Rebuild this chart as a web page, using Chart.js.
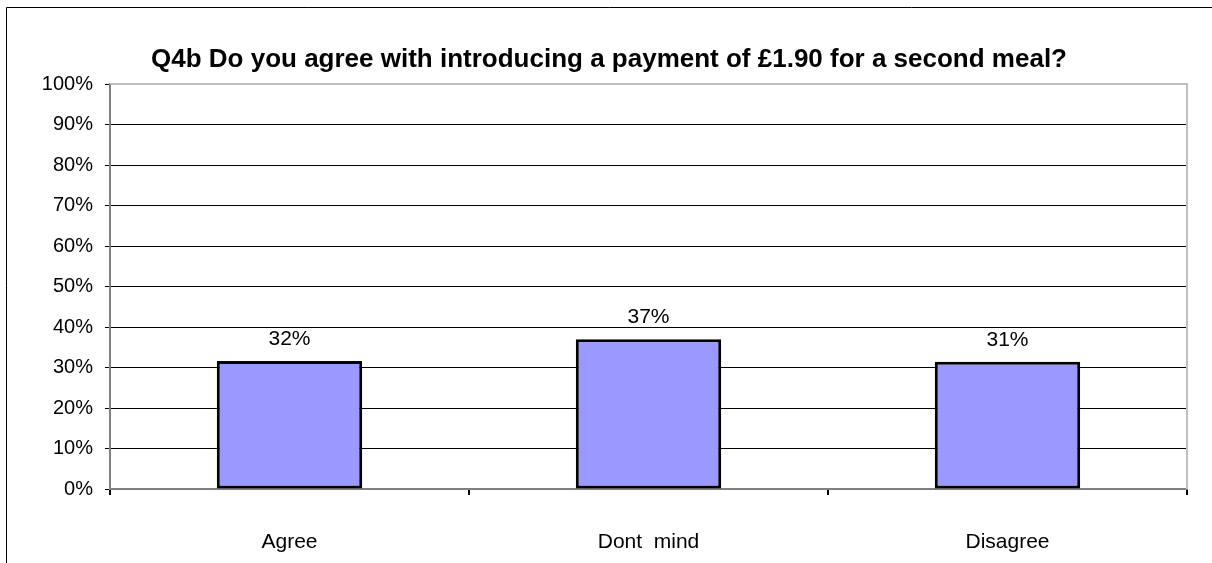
<!DOCTYPE html>
<html>
<head>
<meta charset="utf-8">
<script src="https://cdn.jsdelivr.net/npm/chart.js@4"></script>
<style>
html,body{margin:0;padding:0;background:#fff;}
#wrap{position:relative;width:1212px;height:563px;}
canvas{display:block;}
</style>
</head>
<body>
<div id="wrap"><canvas id="c" width="1212" height="563"></canvas></div>
<script>
const titleText = "Q4b Do you agree with introducing a payment of £1.90 for a second meal?";
const categories = ["Agree", "Dont  mind", "Disagree"];
const values = [31.6, 37.0, 31.4];
const dataLabels = ["32%", "37%", "31%"];
const yTicks = [0, 10, 20, 30, 40, 50, 60, 70, 80, 90, 100];

const FONT = "'Liberation Sans', Arial, sans-serif";

const decor = {
  id: 'decor',
  beforeDraw(chart) {
    const ctx = chart.ctx;
    ctx.save();
    ctx.fillStyle = '#fff';
    ctx.fillRect(0, 0, chart.width, chart.height);
    ctx.strokeStyle = '#000';
    ctx.lineWidth = 1;
    ctx.beginPath();
    ctx.moveTo(6.5, chart.height + 5);
    ctx.lineTo(6.5, 7.5);
    ctx.lineTo(chart.width + 5, 7.5);
    ctx.stroke();
    ctx.restore();
  },
  afterDraw(chart) {
    const ctx = chart.ctx;
    const a = chart.chartArea;
    ctx.save();
    ctx.fillStyle = '#000';
    ctx.font = "bold 26px " + FONT;
    ctx.textAlign = 'center';
    ctx.textBaseline = 'middle';
    ctx.fillText(titleText, 609, 60);
    ctx.strokeStyle = '#c0c0c0';
    ctx.lineWidth = 2;
    ctx.beginPath();
    ctx.moveTo(a.left, a.top);
    ctx.lineTo(a.right, a.top);
    ctx.lineTo(a.right, a.bottom);
    ctx.stroke();
    ctx.restore();
  },
  afterDatasetsDraw(chart) {
    const ctx = chart.ctx;
    const meta = chart.getDatasetMeta(0);
    ctx.save();
    ctx.fillStyle = '#000';
    ctx.font = "21px " + FONT;
    ctx.textAlign = 'center';
    ctx.textBaseline = 'middle';
    meta.data.forEach((bar, i) => {
      ctx.fillText(dataLabels[i], bar.x, bar.y - 22);
    });
    ctx.restore();
  }
};

new Chart(document.getElementById('c'), {
  type: 'bar',
  data: {
    labels: categories,
    datasets: [{
      data: values,
      backgroundColor: '#9999ff',
      borderColor: '#000',
      borderWidth: 3,
      borderSkipped: false,
      categoryPercentage: 1,
      barPercentage: 0.405
    }]
  },
  options: {
    responsive: false,
    animation: false,
    devicePixelRatio: 1,
    layout: { padding: { top: 84, right: 25, left: 0, bottom: 0 } },
    plugins: { legend: { display: false }, title: { display: false }, tooltip: { enabled: false } },
    scales: {
      y: {
        min: 0, max: 100,
        afterBuildTicks(scale) { scale.ticks = yTicks.map(v => ({ value: v })); },
        afterFit(scale) { scale.width = 110; },
        ticks: {
          callback: v => v + '%',
          color: '#000',
          font: { family: FONT, size: 20 },
          padding: 12
        },
        grid: {
          color: ctx => (ctx.tick && ctx.tick.value === 100) ? '#c0c0c0' : '#000',
          tickColor: '#000',
          tickLength: 5,
          lineWidth: 1
        },
        border: { display: true, color: '#808080', width: 2 }
      },
      x: {
        afterFit(scale) { scale.height = 74; },
        ticks: {
          color: '#000',
          font: { family: FONT, size: 21 },
          padding: 35,
          maxRotation: 0
        },
        grid: {
          offset: true,
          drawOnChartArea: false,
          tickColor: '#000',
          tickLength: 6,
          lineWidth: 2
        },
        border: { display: true, color: '#808080', width: 2 }
      }
    }
  },
  plugins: [decor]
});
</script>
</body>
</html>
